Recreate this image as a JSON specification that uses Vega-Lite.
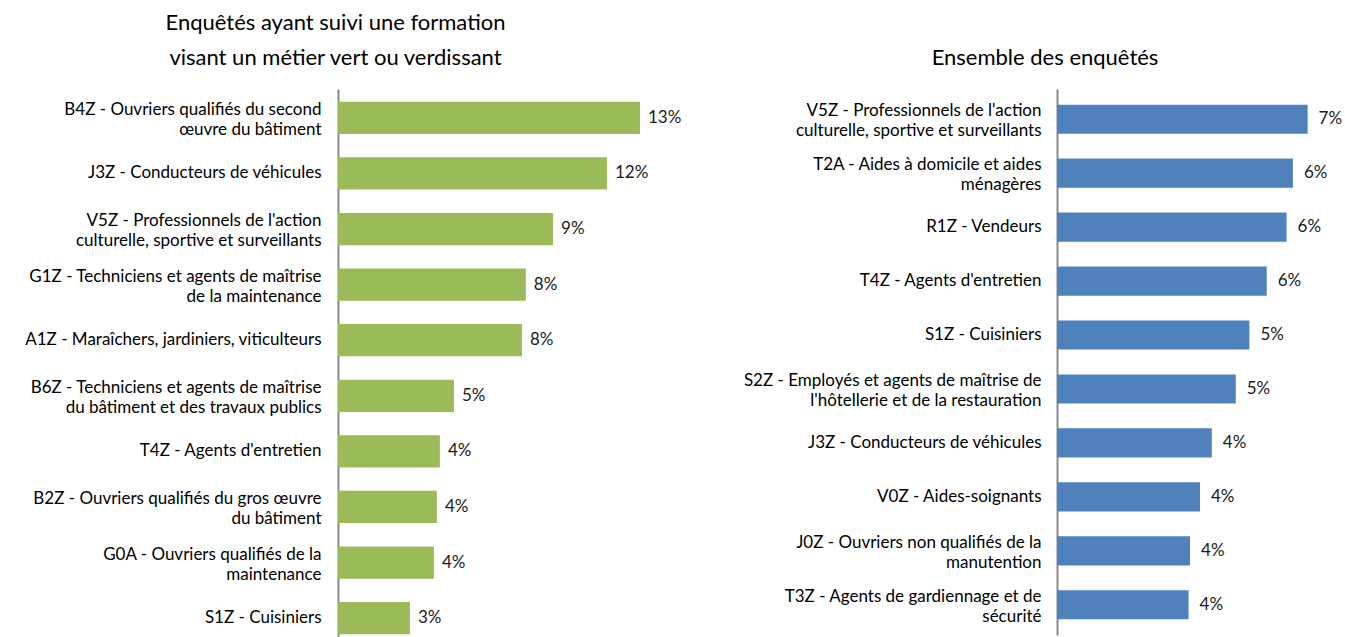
{
  "$schema": "https://vega.github.io/schema/vega-lite/v6.json",
  "padding": {"left": 0, "top": 12, "right": 0, "bottom": 0},
  "background": "white",
  "bounds": "flush",
  "spacing": 394,
  "config": {"view": {"stroke": null}, "font": "Lato"},
  "datasets": {
    "vert": [
      {"metier": "B4Z - Ouvriers qualifiés du second|œuvre du bâtiment", "part": 0.131},
      {"metier": "J3Z - Conducteurs de véhicules", "part": 0.1167},
      {"metier": "V5Z - Professionnels de l'action|culturelle, sportive et surveillants", "part": 0.0933},
      {"metier": "G1Z - Techniciens et agents de maîtrise|de la maintenance", "part": 0.0815},
      {"metier": "A1Z - Maraîchers, jardiniers, viticulteurs", "part": 0.0798},
      {"metier": "B6Z - Techniciens et agents de maîtrise|du bâtiment  et des travaux publics", "part": 0.0503},
      {"metier": "T4Z - Agents d'entretien", "part": 0.0442},
      {"metier": "B2Z - Ouvriers qualifiés du gros œuvre|du bâtiment", "part": 0.0429},
      {"metier": "G0A - Ouvriers qualifiés de la|maintenance", "part": 0.0416},
      {"metier": "S1Z - Cuisiniers", "part": 0.0312}
    ],
    "ensemble": [
      {"metier": "V5Z - Professionnels de l'action|culturelle, sportive et surveillants", "part": 0.068},
      {"metier": "T2A - Aides à domicile et aides|ménagères", "part": 0.064},
      {"metier": "R1Z - Vendeurs", "part": 0.0623},
      {"metier": "T4Z - Agents d'entretien", "part": 0.0569},
      {"metier": "S1Z - Cuisiniers", "part": 0.0522},
      {"metier": "S2Z - Employés et agents de maîtrise de|l'hôtellerie et de la restauration", "part": 0.0485},
      {"metier": "J3Z - Conducteurs de véhicules", "part": 0.042},
      {"metier": "V0Z - Aides-soignants", "part": 0.0388},
      {"metier": "J0Z - Ouvriers non qualifiés de la|manutention", "part": 0.0361},
      {"metier": "T3Z - Agents de gardiennage et de|sécurité", "part": 0.0357}
    ]
  },
  "hconcat": [
    {
      "width": 325,
      "height": 558,
      "title": {
        "text": ["Enquêtés ayant suivi une formation", "visant un métier vert ou verdissant"],
        "fontSize": 22, "fontWeight": "normal", "lineHeight": 35, "offset": 19,
        "color": "#000000", "font": "Lato", "anchor": "middle", "frame": "group", "dx": -165
      },
      "data": {"name": "vert"},
      "encoding": {
        "y": {
          "field": "metier", "type": "nominal", "sort": null,
          "scale": {"paddingInner": 0.42, "paddingOuter": 0.23},
          "axis": {
            "title": null, "ticks": false, "labelExpr": "split(datum.label, '|')",
            "labelFont": "Lato", "labelFontSize": 17, "labelColor": "#000000",
            "labelPadding": 17, "labelLineHeight": 20, "labelLimit": 400,
            "labelOffset": {"condition": {"test": "indexof(datum.value, '|') >= 0", "value": -8}, "value": 0},
            "domainColor": "#898989", "domainWidth": 2,
            "minExtent": 338, "maxExtent": 338, "grid": false
          }
        },
        "x": {"field": "part", "type": "quantitative", "scale": {"domain": [0, 0.141]}, "axis": null}
      },
      "layer": [
        {"mark": {"type": "bar", "color": "#9BBB59"}},
        {
          "mark": {"type": "text", "align": "left", "baseline": "middle", "dx": 8, "fontSize": 17, "font": "Lato", "color": "#1a1a1a"},
          "encoding": {"text": {"field": "part", "type": "quantitative", "format": ".0%"}}
        }
      ]
    },
    {
      "width": 286,
      "height": 546,
      "title": {
        "text": "Ensemble des enquêtés",
        "fontSize": 22, "fontWeight": "normal", "lineHeight": 35, "offset": 19,
        "color": "#000000", "font": "Lato", "anchor": "middle", "frame": "group", "dx": -155
      },
      "data": {"name": "ensemble"},
      "encoding": {
        "y": {
          "field": "metier", "type": "nominal", "sort": null,
          "scale": {"paddingInner": 0.46, "paddingOuter": 0.29},
          "axis": {
            "title": null, "ticks": false, "labelExpr": "split(datum.label, '|')",
            "labelFont": "Lato", "labelFontSize": 17, "labelColor": "#000000",
            "labelPadding": 16, "labelLineHeight": 20, "labelLimit": 400,
            "labelOffset": {"condition": {"test": "indexof(datum.value, '|') >= 0", "value": -8}, "value": 0},
            "domainColor": "#898989", "domainWidth": 2,
            "minExtent": 338, "maxExtent": 338, "grid": false
          }
        },
        "x": {"field": "part", "type": "quantitative", "scale": {"domain": [0, 0.0776]}, "axis": null}
      },
      "layer": [
        {"mark": {"type": "bar", "color": "#4F81BD"}},
        {
          "mark": {"type": "text", "align": "left", "baseline": "middle", "dx": 11, "fontSize": 17, "font": "Lato", "color": "#1a1a1a"},
          "encoding": {"text": {"field": "part", "type": "quantitative", "format": ".0%"}}
        }
      ]
    }
  ]
}
